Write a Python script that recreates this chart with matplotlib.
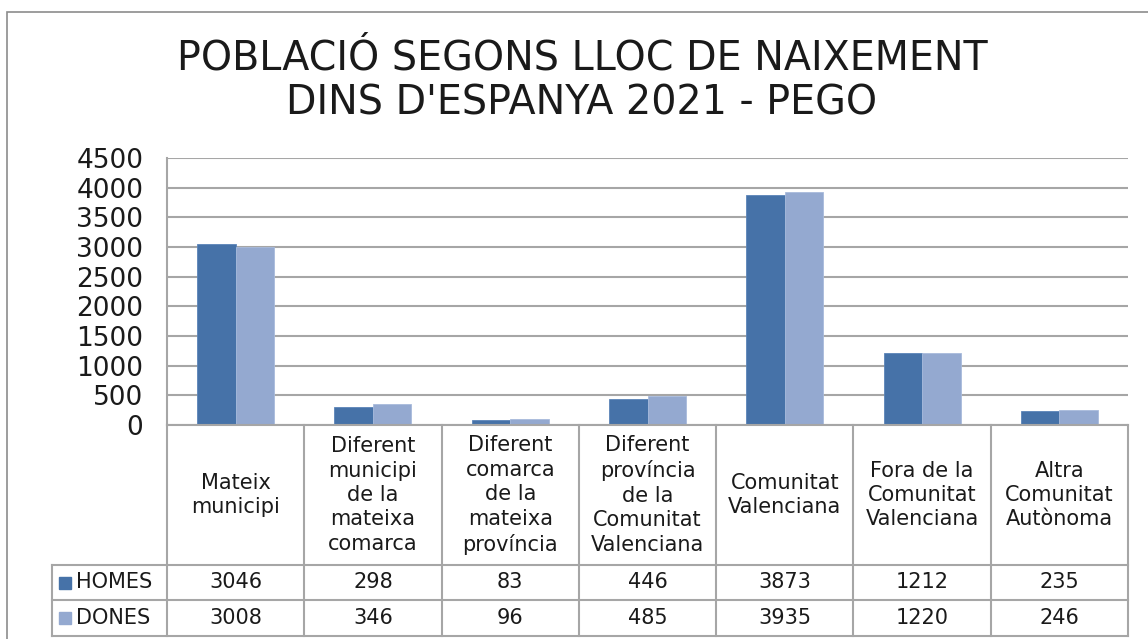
import matplotlib
matplotlib.use("Agg")
import matplotlib.pyplot as plt
from matplotlib.patches import Rectangle
from matplotlib.lines import Line2D
import numpy as np

categories = ["Mateix\nmunicipi",
              "Diferent\nmunicipi\nde la\nmateixa\ncomarca",
              "Diferent\ncomarca\nde la\nmateixa\nprovíncia",
              "Diferent\nprovíncia\nde la\nComunitat\nValenciana",
              "Comunitat\nValenciana",
              "Fora de la\nComunitat\nValenciana",
              "Altra\nComunitat\nAutònoma"]
homes = [3046, 298, 83, 446, 3873, 1212, 235]
dones = [3008, 346, 96, 485, 3935, 1220, 246]
series_names = ["HOMES", "DONES"]
yticks = [0, 500, 1000, 1500, 2000, 2500, 3000, 3500, 4000, 4500]
title = "POBLACIÓ SEGONS LLOC DE NAIXEMENT\nDINS D'ESPANYA 2021 - PEGO"

c_homes = "#4672A8"
c_dones = "#94A9D0"
grid_c = "#A6A6A6"
text_c = "#1a1a1a"

W, H = 1148, 639
fig = plt.figure(figsize=(W / 100, H / 100), dpi=100)
plt.rcParams['font.family'] = ['DejaVu Sans']

def fx(px):
    return px / W

def fy(py):
    return 1 - py / H

# outer chart border
fig.patches.append(Rectangle((fx(7), fy(700)), fx(1200), fy(12) - fy(700),
                             transform=fig.transFigure, fill=False,
                             edgecolor="#8c8c8c", linewidth=1.2))

fig.text(fx(582), fy(81), title, ha="center", va="center", fontsize=28.5,
         color=text_c, linespacing=1.14)

left, right, top, bot = 167, 1128, 158, 425
ax = fig.add_axes([fx(left), fy(bot), fx(right - left), fy(top) - fy(bot)])
n = len(categories)
x = np.arange(n)
bw = 0.28
ax.bar(x - bw / 2, homes, bw, color=c_homes, edgecolor="#5b84b8", linewidth=0.6, zorder=3)
ax.bar(x + bw / 2, dones, bw, color=c_dones, edgecolor="#a8bbdc", linewidth=0.6, zorder=3)
ax.set_xlim(-0.5, n - 0.5)
ax.set_ylim(0, 4500)
ax.set_yticks(yticks)
ax.set_yticklabels([str(v) for v in yticks], fontsize=19, color=text_c)
ax.tick_params(axis="y", length=0, pad=17)
ax.tick_params(axis="x", length=0, labelbottom=False)
ax.yaxis.grid(True, color=grid_c, linewidth=1.5, zorder=0)
for s in ["top", "right", "bottom"]:
    ax.spines[s].set_visible(False)
ax.spines["left"].set_color(grid_c)
ax.spines["left"].set_linewidth(1.5)

# data table
row_h_top = 425
hdr_bot = 565
r1_bot = 600
r2_bot = 636
lab_left = 52
colw = (right - left) / n
lc = dict(color=grid_c, linewidth=1.5, transform=fig.transFigure)

def hline(y, x0, x1):
    fig.lines.append(Line2D([fx(x0), fx(x1)], [fy(y), fy(y)], **lc))

def vline(xp, y0, y1):
    fig.lines.append(Line2D([fx(xp), fx(xp)], [fy(y0), fy(y1)], **lc))

hline(row_h_top, left, right)
hline(hdr_bot, lab_left, right)
hline(r1_bot, lab_left, right)
hline(r2_bot, lab_left, right)
for i in range(n + 1):
    vline(left + i * colw, row_h_top, r2_bot)
vline(lab_left, hdr_bot, r2_bot)

fs = 15
for i, cat in enumerate(categories):
    cx = left + (i + 0.5) * colw
    fig.text(fx(cx), fy((row_h_top + hdr_bot) / 2), cat, ha="center", va="center",
             fontsize=fs, color=text_c, linespacing=1.28)
    fig.text(fx(cx), fy((hdr_bot + r1_bot) / 2), str(homes[i]), ha="center", va="center",
             fontsize=fs, color=text_c)
    fig.text(fx(cx), fy((r1_bot + r2_bot) / 2), str(dones[i]), ha="center", va="center",
             fontsize=fs, color=text_c)

for j, (name, col) in enumerate(zip(series_names, [c_homes, c_dones])):
    yc = (hdr_bot + r1_bot) / 2 if j == 0 else (r1_bot + r2_bot) / 2
    fig.patches.append(Rectangle((fx(59), fy(yc + 6)), fx(12), fy(yc - 6) - fy(yc + 6),
                                 transform=fig.transFigure, color=col))
    fig.text(fx(76), fy(yc), name, ha="left", va="center", fontsize=fs, color=text_c)

fig.savefig("out.png", dpi=100, facecolor="white")
